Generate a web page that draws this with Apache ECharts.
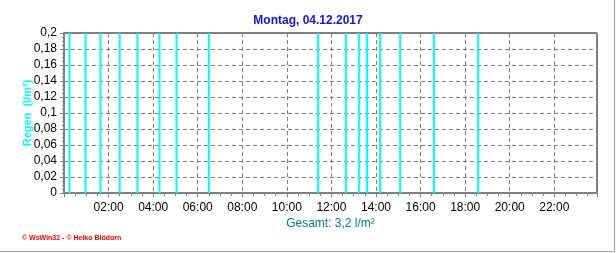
<!DOCTYPE html>
<html><head><meta charset="utf-8">
<script src="https://cdn.jsdelivr.net/npm/echarts@6/dist/echarts.min.js"></script>
<style>html,body{margin:0;padding:0;background:#fff}#c{width:616px;height:253px}</style>
</head><body><div id="c"></div>
<script>
var times = ["00:15","00:58","01:38","02:30","03:18","04:17","05:03","06:30","11:24","12:39","13:14","13:36","14:11","15:05","16:36","18:35"];
var rain = [0.2,0.2,0.2,0.2,0.2,0.2,0.2,0.2,0.2,0.2,0.2,0.2,0.2,0.2,0.2,0.2];
var yTicks = [0,0.02,0.04,0.06,0.08,0.1,0.12,0.14,0.16,0.18,0.2];
var titleText = "Montag, 04.12.2017";
var totalText = "Gesamt: 3,2 l/m²";
var yName = "Regen  (l/m²)";
var footer = "© WsWin32 - © Heiko Blödorn";

function toMin(s){var p=s.split(':');return (+p[0])*60+(+p[1]);}
var data = times.map(function(t,i){return [toMin(t), rain[i]];});
var font = "Liberation Sans, Arial, sans-serif";
var chart = echarts.init(document.getElementById('c'));
chart.setOption({
  animation:false,
  backgroundColor:'#fff',
  title:{text:titleText,left:'center',top:10,textStyle:{color:'#1414E6',fontSize:12,fontWeight:'bold',fontFamily:font}},
  grid:{left:64,right:19,top:33,bottom:60,show:true,borderColor:'#000',borderWidth:1,backgroundColor:'transparent'},
  xAxis:{type:'value',min:0,max:1435,interval:120,
    name:totalText,nameLocation:'middle',nameGap:25,nameMoveOverlap:false,
    nameTextStyle:{color:'#008080',fontSize:12,fontFamily:font},
    axisLine:{show:true,lineStyle:{color:'#808080',width:2}},
    axisTick:{show:true,length:4,lineStyle:{color:'#808080'}},
    minorTick:{show:true,splitNumber:4,length:3,lineStyle:{color:'#808080'}},
    splitLine:{show:true,lineStyle:{color:'#808080',type:[4,3],width:1}},
    axisLabel:{color:'#000',fontSize:12,fontFamily:font,margin:9,
      formatter:function(v){if(v<=0||v>1400)return '';var h=Math.round(v/60);return (h<10?'0':'')+h+':00';}}
  },
  yAxis:{type:'value',min:0,max:0.2,interval:0.02,
    name:yName,nameLocation:'middle',nameGap:31,nameRotate:90,nameMoveOverlap:false,
    nameTextStyle:{color:'#00FFFF',fontSize:11,fontWeight:'bold',fontFamily:font},
    axisLine:{show:true,lineStyle:{color:'#808080',width:2}},
    axisTick:{show:true,length:4,lineStyle:{color:'#808080'}},
    minorTick:{show:true,splitNumber:4,length:2,lineStyle:{color:'#808080'}},
    splitLine:{show:true,lineStyle:{color:'#808080',type:[4,3],width:1}},
    axisLabel:{color:'#000',fontSize:12,fontFamily:font,margin:7,
      formatter:function(v){var t=yTicks.reduce(function(a,b){return Math.abs(b-v)<Math.abs(a-v)?b:a;});return String(parseFloat(t.toFixed(2))).replace('.',',');}}
  },
  series:[{type:'bar',data:data,barWidth:2,itemStyle:{color:'#00FFFF'},z:1}],
  graphic:[
    {type:'text',left:22,top:235,style:{text:footer,fill:'#FF0000',font:'bold 7px '+font}},
    {type:'line',shape:{x1:0,y1:251.5,x2:615,y2:251.5},style:{stroke:'#A0A0A0',lineWidth:1}},
    {type:'line',shape:{x1:614.5,y1:0,x2:614.5,y2:252},style:{stroke:'#A0A0A0',lineWidth:1}}
  ]
});
</script></body></html>
